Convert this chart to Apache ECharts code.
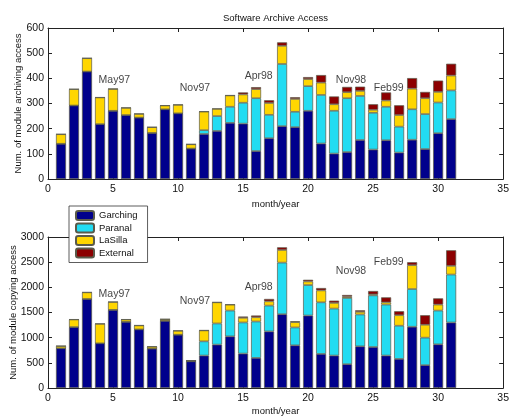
<!DOCTYPE html>
<html><head><meta charset="utf-8">
<script src="https://cdn.jsdelivr.net/npm/echarts@6/dist/echarts.min.js"></script>
<style>html,body{margin:0;padding:0;background:#fff}#c{width:512px;height:417px}</style>
</head><body><div id="c"></div>
<script>
const months = [1,2,3,4,5,6,7,8,9,10,11,12,13,14,15,16,17,18,19,20,21,22,23,24,25,26,27,28,29,30,31];
const seriesNames = ['Garching','Paranal','LaSilla','External'];
const archGarching = [140,292,427,218,271,254,244,183,277,261,121,179,191,223,220,111,162,210,206,271,141,101,107,155,117,154,105,156,119,182,238];
const archParanal  = [0,0,0,0,0,0,0,0,0,0,0,15,59,64,83,210,93,247,61,98,193,170,214,175,146,133,103,121,139,122,114];
const archLaSilla  = [38,65,53,106,87,29,15,23,15,34,17,74,29,45,33,36,47,72,51,28,49,26,24,20,12,25,46,82,63,42,59];
const archExternal = [0,0,0,0,0,0,0,0,0,0,0,0,0,0,8,8,11,14,7,8,30,31,21,17,22,32,39,42,25,45,47];
const copyGarching = [789,1210,1769,888,1552,1315,1164,783,1335,1059,530,645,862,1026,684,598,1124,1466,848,1440,677,645,473,828,815,645,578,1217,454,868,1302];
const copyParanal  = [0,0,0,0,0,0,0,0,0,0,0,282,420,512,618,723,513,1025,355,605,1025,933,1316,632,1025,1012,659,749,546,670,952];
const copyLaSilla  = [45,151,131,388,158,46,79,39,32,79,16,217,420,119,92,85,85,251,105,72,237,112,26,53,20,45,209,474,256,119,172];
const copyExternal = [0,0,0,0,0,0,0,0,0,0,0,0,0,0,26,34,47,53,19,33,47,46,33,31,67,99,79,59,190,124,310];
const noteLabels = ['May97','Nov97','Apr98','Nov98','Feb99'];
const noteX = [5.1,11.3,16.2,23.3,26.2];
const archNoteY = [391,362,407,394,363];
const copyNoteY = [1868,1736,2012,2327,2511];
const xTicks = {min:0,max:35,interval:5};
const archTicks = {min:0,max:600,interval:100};
const copyTicks = {min:0,max:3000,interval:500};

const colors = ['#00008c','#22dcf2','#ffd600','#8c0000'];
const font = 'Liberation Sans, Arial, sans-serif';
const chart = echarts.init(document.getElementById('c'));

function xAx(grid, ticks, pos, showLabel, name, gap){
  return {type:'value', gridIndex:grid, position:pos, min:ticks.min, max:ticks.max, interval:ticks.interval,
    name: name||'', nameLocation:'middle', nameGap:gap||18, nameMoveOverlap:false,
    nameTextStyle:{fontSize:9.5,color:'#111',fontFamily:font},
    axisLine:{show:true,onZero:false,lineStyle:{color:'#222',width:1}},
    axisTick:{show:true,inside:true,length:4,lineStyle:{color:'#222'}},
    axisLabel:{show:showLabel,fontSize:10.5,color:'#111',fontFamily:font,margin:5,formatter:v=>String(v)},
    splitLine:{show:false}};
}
function yAx(grid, ticks, pos, showLabel, name, gap){
  return {type:'value', gridIndex:grid, position:pos, min:ticks.min, max:ticks.max, interval:ticks.interval,
    name: name||'', nameLocation:'middle', nameGap:gap||30, nameMoveOverlap:false,
    nameTextStyle:{fontSize:9.5,color:'#111',fontFamily:font},
    axisLine:{show:true,onZero:false,lineStyle:{color:'#222',width:1}},
    axisTick:{show:true,inside:true,length:4,lineStyle:{color:'#222'}},
    axisLabel:{show:showLabel,fontSize:10.5,color:'#111',fontFamily:font,margin:4,formatter:v=>String(v)},
    splitLine:{show:false}};
}
function bars(name, vals, gi, stack, ci){
  return {name:name, type:'bar', xAxisIndex:gi, yAxisIndex:gi, stack:stack, barWidth:'77%',
    data: months.map((m,i)=>[vals[i], m]),
    encode:{x:1, y:0},
    itemStyle:{color:colors[ci], borderColor:'#5a5a4a', borderWidth:0.7},
    emphasis:{disabled:true}, animation:false};
}
function notes(gi, ys){
  return {type:'scatter', xAxisIndex:gi, yAxisIndex:gi, symbolSize:0, silent:true, animation:false,
    data: noteLabels.map((t,i)=>({name:t, value:[noteX[i], ys[i]]})),
    label:{show:true, position:'inside', formatter:'{b}', color:'#111', fontSize:10.5, fontFamily:font}};
}

const archSets = [archGarching, archParanal, archLaSilla, archExternal];
const copySets = [copyGarching, copyParanal, copyLaSilla, copyExternal];
const series = [];
archSets.forEach((v,i)=>series.push(bars(seriesNames[i], v, 0, 'arch', i)));
copySets.forEach((v,i)=>series.push(bars(seriesNames[i], v, 1, 'copy', i)));
series.push(notes(0, archNoteY));
series.push(notes(1, copyNoteY));

chart.setOption({
  animation:false,
  backgroundColor:'#fff',
  title:{text:'Software Archive Access', left:218, top:8, textStyle:{fontSize:9.5,fontWeight:'normal',color:'#111',fontFamily:font}},
  legend:{data:seriesNames, orient:'vertical', left:69, top:206, itemWidth:18, itemHeight:9, itemGap:1.5,
    padding:[4,10,4,6], backgroundColor:'#fff', borderColor:'#333', borderWidth:0.8,
    textStyle:{fontSize:9.5,color:'#111',fontFamily:font}, selectedMode:false},
  grid:[{left:48,right:7,top:28,height:151},{left:48,right:7,top:237,height:152}],
  xAxis:[xAx(0,xTicks,'bottom',true,'month/year',20), xAx(1,xTicks,'bottom',true,'month/year',18),
         xAx(0,xTicks,'top',false), xAx(1,xTicks,'top',false)],
  yAxis:[yAx(0,archTicks,'left',true,'Num. of module archiving access',25), yAx(1,copyTicks,'left',true,'Num. of module copying access',30),
         yAx(0,archTicks,'right',false), yAx(1,copyTicks,'right',false)],
  series:series
});
</script></body></html>
